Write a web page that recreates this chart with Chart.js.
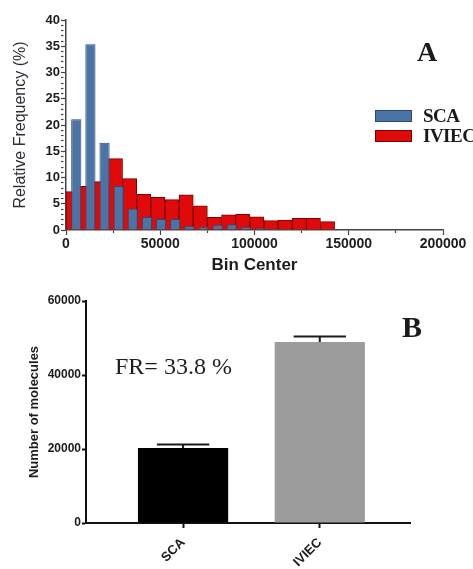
<!DOCTYPE html>
<html>
<head>
<meta charset="utf-8">
<script src="https://cdn.jsdelivr.net/npm/chart.js@4.4.0/dist/chart.umd.min.js"></script>
<style>
    body { margin: 0; background: #fff; width: 473px; height: 569px; position: relative; overflow: hidden; font-family: 'Liberation Sans', Arial, sans-serif; }
    canvas { position: absolute; left: 0; }
    #chart-a { top: 0; }
    #chart-b { top: 280px; }
    .tag { position: absolute; font-family: 'Liberation Serif', 'Times New Roman', serif; font-weight: bold; color: #1a1a1a; line-height: 1; }
    #legend-a { position: absolute; left: 375px; top: 106px; }
    .legend-row { display: flex; align-items: center; height: 20px; }
    .legend-swatch { width: 37px; height: 12px; box-sizing: border-box; margin-right: 11px; }
    .legend-label { font-family: 'Liberation Serif', 'Times New Roman', serif; font-weight: bold; font-size: 19px; line-height: 20px; color: #1a1a1a; letter-spacing: -0.5px; }
    #fr-note { position: absolute; left: 115px; top: 354px; font-family: 'Liberation Serif', 'Times New Roman', serif; font-size: 24px; line-height: 1; color: #1e1e1e; }
</style>
</head>
<body>
<canvas id="chart-a" width="473" height="280"></canvas>
<canvas id="chart-b" width="473" height="289"></canvas>
<div class="tag" style="left:417px; top:38px; font-size:28px;">A</div>
<div class="tag" style="left:402px; top:312px; font-size:30px;">B</div>
<div id="legend-a"></div>
<div id="fr-note">FR= 33.8 %</div>
<script>
// Panel A - histogram data (bin width 7500)
const binCenters = [3750, 11250, 18750, 26250, 33750, 41250, 48750, 56250, 63750, 71250,
    78750, 86250, 93750, 101250, 108750, 116250, 123750, 131250, 138750];
const scaFreq = [21.1, 35.4, 16.6, 8.4, 4.1, 2.5, 2.1, 2.1, 0.8, 0.6,
    1.0, 1.1, 0.6, 0.4, 0.3, 0.2, 0, 0, 0];
const iviecFreq = [7.3, 8.3, 9.2, 13.6, 9.8, 6.8, 6.2, 5.8, 6.7, 4.6,
    2.4, 2.9, 3.0, 2.5, 1.8, 1.9, 2.2, 2.2, 1.6];
const freqTicks = [0, 5, 10, 15, 20, 25, 30, 35, 40];
const binTicks = [0, 50000, 100000, 150000, 200000];

// Panel B - bar + error data
const groups = ['SCA', 'IVIEC'];
const moleculeMeans = [20300, 48900];
const moleculeErr = [900, 1500];
const moleculeTicks = [0, 20000, 40000, 60000];

const ink = '#1c1c1c';
const tickFont = (size) => ({ family: "'Liberation Sans', Arial, sans-serif", size: size, weight: 'bold' });

const toPoints = (vals) => vals.map((v, i) => ({ x: binCenters[i], y: v }));

const chartA = new Chart(document.getElementById('chart-a'), {
    type: 'bar',
    data: {
        datasets: [{
            label: 'SCA',
            data: toPoints(scaFreq),
            xAxisID: 'x2',
            grouped: false,
            backgroundColor: '#4a74a6',
            borderColor: '#2c4a70',
            borderWidth: 1,
            barPercentage: 0.72,
            categoryPercentage: 1
        }, {
            label: 'IVIEC',
            data: toPoints(iviecFreq),
            xAxisID: 'x',
            grouped: false,
            backgroundColor: '#e10a0a',
            borderColor: '#7a0000',
            borderWidth: 1,
            barPercentage: 1,
            categoryPercentage: 1
        }]
    },
    options: {
        responsive: false,
        animation: false,
        layout: { padding: { top: 20, right: 30, left: 0, bottom: 0 } },
        plugins: { legend: { display: false }, tooltip: { enabled: false } },
        scales: {
            x: {
                type: 'linear',
                min: 0,
                max: 200000,
                offset: false,
                afterBuildTicks: (s) => {
                    // majors from binTicks plus one minor between each pair
                    const t = [];
                    binTicks.forEach((v, i) => {
                        t.push({ value: v });
                        if (i < binTicks.length - 1) t.push({ value: (v + binTicks[i + 1]) / 2 });
                    });
                    s.ticks = t;
                },
                afterFit: (s) => { s.height = 50; },
                ticks: {
                    autoSkip: false,
                    maxRotation: 0,
                    padding: 1,
                    color: ink,
                    font: tickFont(14),
                    callback: (v) => binTicks.includes(v) ? String(v) : ''
                },
                grid: {
                    offset: false,
                    drawOnChartArea: false,
                    tickLength: 5,
                    tickColor: '#444',
                    tickWidth: 1.2,
                    tickBorderDash: (c) => binTicks.includes(c.tick && c.tick.value) ? [] : [2.5, 20]
                },
                border: { display: true, color: '#444', width: 1.5 },
                title: {
                    display: true,
                    text: 'Bin Center',
                    color: ink,
                    font: tickFont(17),
                    padding: { top: 0, bottom: 4 }
                }
            },
            x2: {
                type: 'linear',
                display: false,
                min: -1700,
                max: 198300,
                offset: false,
                afterBuildTicks: (s) => { s.ticks = []; }
            },
            y: {
                min: 0,
                max: 40,
                afterBuildTicks: (s) => {
                    const t = [];
                    for (let v = 0; v <= 40; v++) t.push({ value: v });
                    s.ticks = t;
                },
                afterFit: (s) => { s.width = 66; },
                ticks: {
                    autoSkip: false,
                    padding: 1,
                    color: ink,
                    font: tickFont(13),
                    callback: (v) => freqTicks.includes(v) ? String(v) : ''
                },
                grid: {
                    drawOnChartArea: false,
                    tickLength: 5,
                    tickColor: '#444',
                    tickWidth: 1.2,
                    tickBorderDash: (c) => freqTicks.includes(c.tick && c.tick.value) ? [] : [2.5, 20]
                },
                border: { display: true, color: '#444', width: 1.5 },
                title: {
                    display: true,
                    text: 'Relative Frequency (%)',
                    color: '#2a2d3a',
                    font: { family: "'Liberation Sans', Arial, sans-serif", size: 16 },
                    padding: { top: 11, bottom: 0 }
                }
            }
        }
    }
});

// HTML legend built from the chart datasets
const legendBox = document.getElementById('legend-a');
chartA.data.datasets.forEach((ds) => {
    const row = document.createElement('div');
    row.className = 'legend-row';
    row.innerHTML = '<div class="legend-swatch" style="background:' + ds.backgroundColor +
        ';border:1px solid ' + ds.borderColor + '"></div><span class="legend-label">' + ds.label + '</span>';
    legendBox.appendChild(row);
});

// Error bars for panel B
const errorBars = {
    id: 'errorBars',
    afterDatasetsDraw(chart) {
        const { ctx, scales: { y } } = chart;
        chart.getDatasetMeta(0).data.forEach((bar, i) => {
            const top = y.getPixelForValue(moleculeMeans[i] + moleculeErr[i]);
            const half = bar.width * 0.29;
            ctx.save();
            ctx.strokeStyle = '#1a1a1a';
            ctx.lineWidth = 2;
            ctx.beginPath();
            ctx.moveTo(bar.x, bar.y);
            ctx.lineTo(bar.x, top);
            ctx.moveTo(bar.x - half, top);
            ctx.lineTo(bar.x + half, top);
            ctx.stroke();
            ctx.restore();
        });
    }
};

const chartB = new Chart(document.getElementById('chart-b'), {
    type: 'bar',
    data: {
        datasets: [{
            label: 'Number of molecules',
            data: moleculeMeans.map((v, i) => ({ x: i + 1, y: v })),
            backgroundColor: ['#000000', '#9c9c9c'],
            borderWidth: 0,
            barPercentage: 0.66,
            categoryPercentage: 1
        }]
    },
    options: {
        responsive: false,
        animation: false,
        layout: { padding: { top: 21, right: 63, left: 0, bottom: 0 } },
        plugins: { legend: { display: false }, tooltip: { enabled: false } },
        scales: {
            x: {
                type: 'linear',
                min: 0.29,
                max: 2.66,
                offset: false,
                afterBuildTicks: (s) => { s.ticks = groups.map((g, i) => ({ value: i + 1 })); },
                afterFit: (s) => { s.height = 46; },
                ticks: {
                    autoSkip: false,
                    minRotation: 45,
                    maxRotation: 45,
                    padding: 7,
                    color: ink,
                    font: tickFont(13),
                    callback: (v) => groups[v - 1] || ''
                },
                grid: { offset: false, drawOnChartArea: false, tickLength: 5, tickColor: '#111', tickWidth: 2 },
                border: { display: true, color: '#111', width: 2 }
            },
            y: {
                min: 0,
                max: 60000,
                afterBuildTicks: (s) => { s.ticks = moleculeTicks.map((v) => ({ value: v })); },
                afterFit: (s) => { s.width = 86; },
                ticks: {
                    padding: 1,
                    color: ink,
                    font: tickFont(12),
                    callback: (v) => String(v)
                },
                grid: { drawOnChartArea: false, tickLength: 4, tickColor: '#111', tickWidth: 2 },
                border: { display: true, color: '#111', width: 2 },
                title: {
                    display: true,
                    text: 'Number of molecules',
                    color: ink,
                    font: tickFont(13),
                    padding: { top: 27, bottom: 0 }
                }
            }
        }
    },
    plugins: [errorBars]
});
</script>
</body>
</html>
